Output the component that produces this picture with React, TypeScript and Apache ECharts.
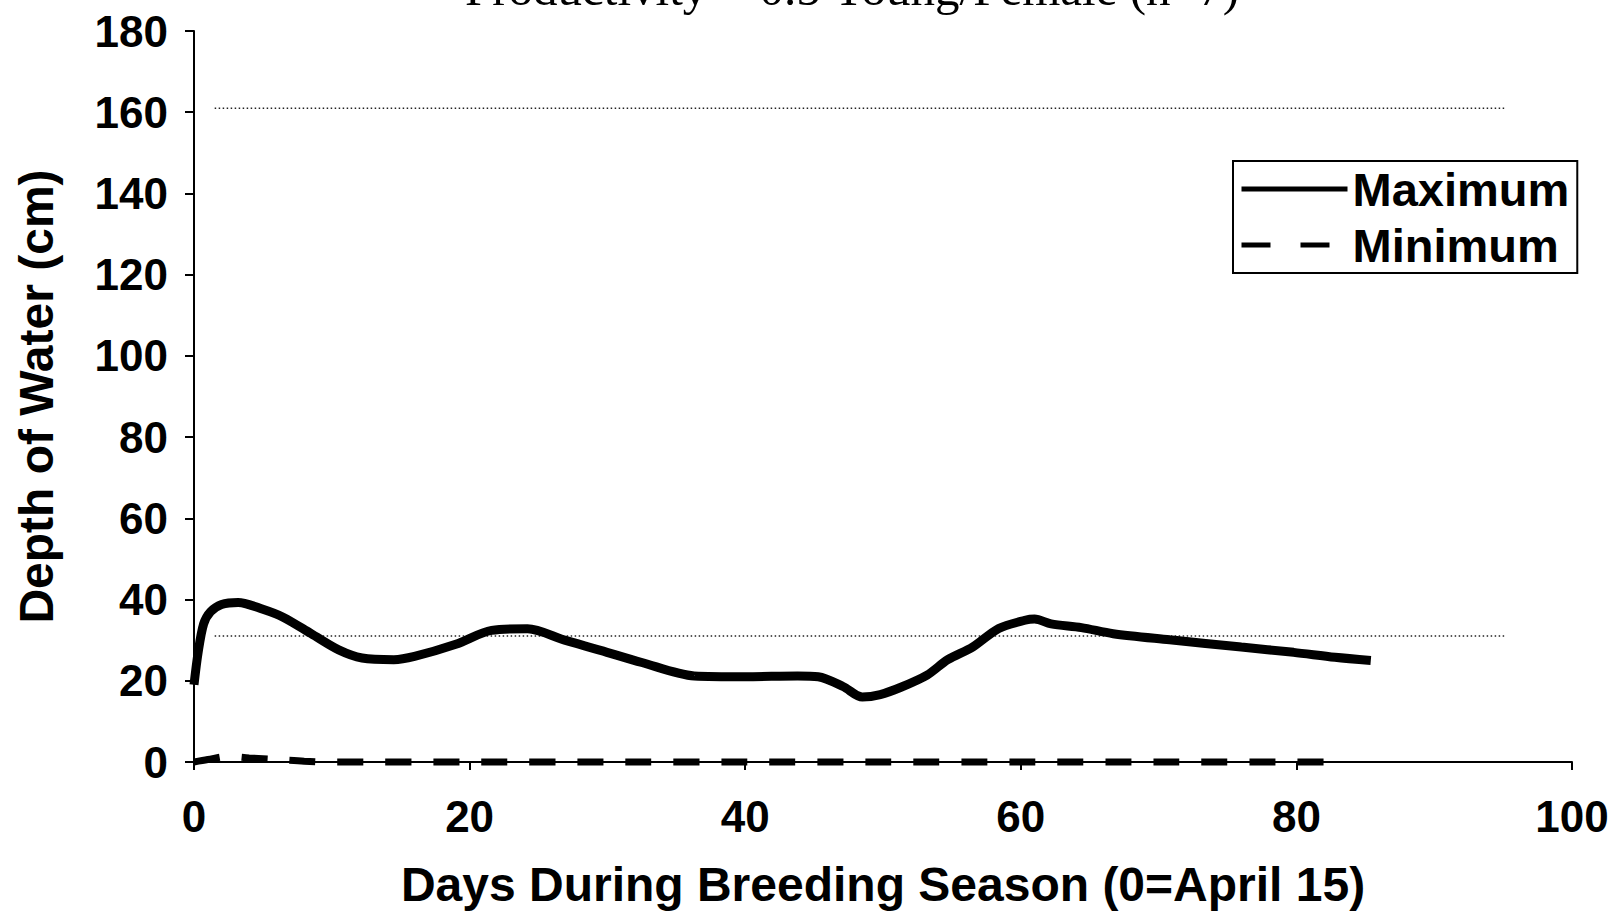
import React, { useEffect, useRef } from "react";
import * as echarts from "echarts";

const titleText = "Productivity = 0.5 Young/Female (n=7)";
const xTicks = [0, 20, 40, 60, 80, 100];
const yTicks = [0, 20, 40, 60, 80, 100, 120, 140, 160, 180];

const maxDays = [0, 0.3, 0.7, 1.2, 2, 3.2, 5, 6.5, 8.5, 10.5, 12.2, 14.5, 16, 19, 21.6, 24.2, 26.9, 29.5, 32.5, 36.3, 40, 43.8, 45.3, 47.1, 48.5, 49.8, 51.3, 53.2, 54.7, 56.5, 58.4, 60.3, 61, 62.2, 64.4, 66.7, 70.8, 76, 79.8, 82.8, 85.4];
const maxDepth = [19, 27, 34, 37, 38.8, 39.3, 37.6, 35.6, 31.6, 27.6, 25.6, 25.2, 26, 29, 32.4, 32.8, 30, 27.5, 24.5, 21.2, 21, 21.2, 21, 18.6, 16, 16.6, 18.4, 21.4, 25.2, 28.3, 32.9, 34.9, 35.2, 34, 33.1, 31.6, 30.1, 28.3, 27, 25.8, 25];

const minDays = [0, 1, 2.5, 4, 6, 8, 10, 20, 30, 40, 50, 60, 70, 83];
const minDepth = [0, 0.6, 1.4, 1.0, 0.6, 0.2, 0, 0, 0, 0, 0, 0, 0, 0];

const refDays = [1.5, 95.2];
const upperRef = [161, 161];
const lowerRef = [31, 31];

const zip = (a: number[], b: number[]) => a.map((v, i) => [v, b[i]]);

export default function App() {
  const ref = useRef<HTMLDivElement>(null);
  useEffect(() => {
    document.body.style.margin = "0";
    const chart = echarts.init(ref.current!, null, { renderer: "svg" });
    const font = "'Liberation Sans', Arial, sans-serif";
    chart.setOption({
      animation: false,
      backgroundColor: "#ffffff",
      grid: { left: 194, right: 51, top: 31, bottom: 155, containLabel: false },
      graphic: [
        {
          type: "text",
          x: 852,
          y: -12,
          style: {
            text: titleText,
            font: "49px 'Liberation Serif', 'Times New Roman', serif",
            fill: "#000",
            textAlign: "center",
            textVerticalAlign: "middle",
          },
        },
      ],
      legend: {
        orient: "vertical",
        left: 1233,
        top: 161,
        padding: [4, 8, 4, 6],
        borderColor: "#000",
        borderWidth: 2,
        itemGap: 8,
        itemWidth: 106,
        itemHeight: 14,
        textStyle: { fontFamily: font, fontWeight: "bold", fontSize: 47, color: "#000", lineHeight: 48 },
        data: [
          { name: "Maximum", itemStyle: { opacity: 0 }, lineStyle: { width: 5, type: "solid", color: "#000" } },
          { name: "Minimum", itemStyle: { opacity: 0 }, lineStyle: { width: 5, type: [29, 30], color: "#000" } },
        ],
      },
      xAxis: {
        type: "value",
        min: xTicks[0],
        max: xTicks[xTicks.length - 1],
        interval: 20,
        name: "Days During Breeding Season (0=April 15)",
        nameLocation: "middle",
        nameGap: 98,
        nameTextStyle: { fontFamily: font, fontWeight: "bold", fontSize: 48, color: "#000" },
        axisLine: { show: true, onZero: false, lineStyle: { color: "#000", width: 2 } },
        axisTick: { show: true, length: 8, lineStyle: { color: "#000", width: 2 } },
        axisLabel: { fontFamily: font, fontWeight: "bold", fontSize: 44, color: "#000", margin: 32 },
        splitLine: { show: false },
      },
      yAxis: {
        type: "value",
        min: yTicks[0],
        max: yTicks[yTicks.length - 1],
        interval: 20,
        name: "Depth of Water (cm)",
        nameLocation: "middle",
        nameRotate: 90,
        nameGap: 134,
        nameTextStyle: { fontFamily: font, fontWeight: "bold", fontSize: 48, color: "#000" },
        axisLine: { show: true, lineStyle: { color: "#000", width: 2 } },
        axisTick: { show: true, length: 9, lineStyle: { color: "#000", width: 2 } },
        axisLabel: { fontFamily: font, fontWeight: "bold", fontSize: 44, color: "#000", margin: 26 },
        splitLine: { show: false },
      },
      series: [
        {
          name: "Upper",
          type: "line",
          data: zip(refDays, upperRef),
          symbol: "none",
          silent: true,
          lineStyle: { color: "#222", width: 1.5, type: [1.5, 2.5] },
        },
        {
          name: "Lower",
          type: "line",
          data: zip(refDays, lowerRef),
          symbol: "none",
          silent: true,
          lineStyle: { color: "#222", width: 1.5, type: [1.5, 2.5] },
        },
        {
          name: "Maximum",
          type: "line",
          data: zip(maxDays, maxDepth),
          symbol: "none",
          smooth: 0.3,
          clip: false,
          lineStyle: { color: "#000", width: 9 },
          itemStyle: { color: "#000" },
          z: 5,
        },
        {
          name: "Minimum",
          type: "line",
          data: zip(minDays, minDepth),
          symbol: "none",
          smooth: 0.3,
          clip: false,
          lineStyle: { color: "#000", width: 7, type: [26, 22] },
          itemStyle: { color: "#000" },
          z: 5,
        },
      ],
    });
    return () => chart.dispose();
  }, []);
  return <div ref={ref} style={{ width: 1623, height: 917 }} />;
}
